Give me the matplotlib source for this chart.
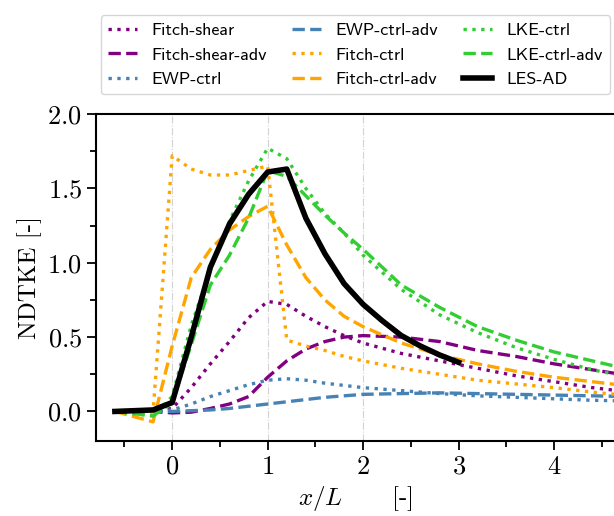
import matplotlib
matplotlib.use("Agg")
import matplotlib.pyplot as plt
from matplotlib.ticker import MultipleLocator

plt.rcParams['font.family'] = 'serif'
plt.rcParams['font.serif'] = ['cmr10']
plt.rcParams['mathtext.fontset'] = 'cm'
plt.rcParams['axes.formatter.use_mathtext'] = True

# streamwise positions of the model profiles
x_model = [-0.6, -0.2, 0.0, 0.2, 0.4, 0.6, 0.8, 1.0, 1.2, 1.4, 1.6, 1.8, 2.0,
           2.4, 2.8, 3.2, 3.6, 4.0, 4.4, 4.8, 5.0]

fitch_shear = [0.0, 0.0, 0.02, 0.16, 0.32, 0.47, 0.63, 0.74, 0.72, 0.64, 0.57, 0.51, 0.46,
               0.39, 0.34, 0.29, 0.24, 0.20, 0.16, 0.13, 0.12]
fitch_shear_adv = [0.0, 0.0, -0.01, -0.005, 0.02, 0.05, 0.10, 0.23, 0.34, 0.42, 0.47, 0.50, 0.51,
                   0.50, 0.47, 0.41, 0.37, 0.32, 0.28, 0.24, 0.22]
ewp_ctrl = [0.0, 0.0, 0.01, 0.05, 0.10, 0.14, 0.18, 0.21, 0.22, 0.21, 0.19, 0.175, 0.16,
            0.14, 0.12, 0.105, 0.095, 0.085, 0.075, 0.07, 0.065]
ewp_ctrl_adv = [0.0, 0.0, 0.0, 0.005, 0.01, 0.02, 0.035, 0.05, 0.065, 0.08, 0.095, 0.105, 0.115,
                0.12, 0.125, 0.12, 0.115, 0.11, 0.105, 0.10, 0.095]
fitch_ctrl = [0.0, 0.0, 1.72, 1.63, 1.59, 1.59, 1.62, 1.65, 0.48, 0.44, 0.41, 0.37, 0.34,
              0.29, 0.25, 0.21, 0.185, 0.16, 0.13, 0.105, 0.095]
fitch_ctrl_adv = [0.0, -0.07, 0.44, 0.90, 1.09, 1.22, 1.31, 1.38, 1.12, 0.90, 0.75, 0.64, 0.57,
                  0.46, 0.38, 0.32, 0.27, 0.23, 0.20, 0.17, 0.16]
lke_ctrl = [0.0, -0.03, 0.10, 0.58, 0.95, 1.28, 1.55, 1.77, 1.70, 1.50, 1.33, 1.20, 1.05,
            0.82, 0.65, 0.53, 0.43, 0.35, 0.28, 0.23, 0.21]
lke_ctrl_adv = [0.0, -0.03, 0.06, 0.45, 0.85, 1.05, 1.30, 1.62, 1.58, 1.45, 1.32, 1.20, 1.09,
                0.85, 0.70, 0.57, 0.48, 0.40, 0.34, 0.28, 0.26]

# LES reference
x_les = [-0.6, -0.2, 0.0, 0.2, 0.4, 0.6, 0.8, 1.0, 1.2, 1.4, 1.6, 1.8, 2.0, 2.2, 2.4, 2.6, 2.8, 3.0]
les_ad = [0.0, 0.01, 0.06, 0.50, 0.97, 1.26, 1.46, 1.61, 1.63, 1.30, 1.06, 0.86, 0.72,
          0.61, 0.51, 0.44, 0.38, 0.33]

fig = plt.figure(figsize=(6.14, 5.16), dpi=100)
ax = fig.add_axes([0.156, 0.145, 0.846, 0.634])

for xv in [0, 1, 2]:
    ax.axvline(xv, color='lightgray', linestyle='-.', linewidth=0.8, zorder=0)

lw = 2.4
ax.plot(x_model, fitch_shear, ':', color='purple', lw=lw, label='Fitch-shear')
ax.plot(x_model, fitch_shear_adv, '--', color='purple', lw=lw, label='Fitch-shear-adv')
ax.plot(x_model, ewp_ctrl, ':', color='steelblue', lw=lw, label='EWP-ctrl')
ax.plot(x_model, ewp_ctrl_adv, '--', color='steelblue', lw=lw, label='EWP-ctrl-adv')
ax.plot(x_model, fitch_ctrl, ':', color='orange', lw=lw, label='Fitch-ctrl')
ax.plot(x_model, fitch_ctrl_adv, '--', color='orange', lw=lw, label='Fitch-ctrl-adv')
ax.plot(x_model, lke_ctrl, ':', color='limegreen', lw=lw, label='LKE-ctrl')
ax.plot(x_model, lke_ctrl_adv, '--', color='limegreen', lw=lw, label='LKE-ctrl-adv')
ax.plot(x_les, les_ad, '-', color='black', lw=4, label='LES-AD')

ax.set_xlim(-0.8, 4.64)
ax.set_ylim(-0.2, 2.0)
ax.xaxis.set_major_locator(MultipleLocator(1))
ax.xaxis.set_minor_locator(MultipleLocator(0.5))
ax.yaxis.set_major_locator(MultipleLocator(0.5))
ax.yaxis.set_minor_locator(MultipleLocator(0.25))
ax.tick_params(which='major', length=6.5, width=1.3, labelsize=19)
ax.tick_params(which='minor', length=4.5, width=1.3)
for s in ax.spines.values():
    s.set_linewidth(1.5)

ax.set_ylabel('NDTKE [-]', fontsize=18)
ax.set_xlabel(r'$x/L$' + '      [-]', fontsize=18)

ax.legend(ncol=3, loc='lower center', bbox_to_anchor=(0.5, 1.06),
          prop={'family': 'cmss10', 'size': 13}, handlelength=1.6,
          columnspacing=1.4, borderaxespad=0)

fig.savefig('out.png', dpi=100)
